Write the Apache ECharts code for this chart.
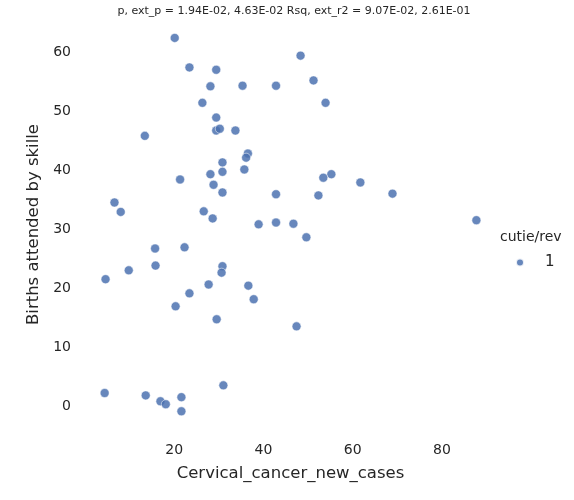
<!DOCTYPE html>
<html>
<head>
<meta charset="utf-8">
<script src="https://cdn.jsdelivr.net/npm/echarts@6/dist/echarts.min.js"></script>
<style>
  html, body { margin: 0; padding: 0; background: #fff; }
  #chart { width: 574px; height: 500px; }
</style>
</head>
<body>
<div id="chart"></div>
<script>
// values
var cancerCases = [
  20.1, 23.4, 29.4, 48.3, 51.2, 28.1, 35.3, 42.8, 26.3, 53.9,
  29.4, 29.4, 30.2, 33.7, 13.4, 36.5, 36.1, 30.8, 30.8, 35.7,
  28.1, 21.3, 55.2, 53.4, 61.7, 28.8, 30.8, 42.8, 52.3, 68.9,
  6.6, 8.0, 26.6, 28.6, 87.7, 42.8, 38.9, 46.7, 49.6, 15.7,
  22.3, 15.8, 30.8, 30.6, 9.8, 4.6, 27.7, 36.6, 23.4, 37.8,
  20.3, 29.5, 47.4, 4.4, 13.6, 21.6, 16.9, 18.1, 21.6, 31.0
];
var birthsSkilled = [
  62.4, 57.4, 57.0, 59.4, 55.2, 54.2, 54.3, 54.3, 51.4, 51.4,
  48.9, 46.7, 47.0, 46.7, 45.8, 42.8, 42.1, 41.3, 39.7, 40.1,
  39.3, 38.4, 39.3, 38.7, 37.9, 37.5, 36.2, 35.9, 35.7, 36.0,
  34.5, 32.9, 33.0, 31.8, 31.5, 31.1, 30.8, 30.9, 28.6, 26.7,
  26.9, 23.8, 23.7, 22.6, 23.0, 21.5, 20.6, 20.4, 19.1, 18.1,
  16.9, 14.7, 13.5, 2.2, 1.8, 1.5, 0.8, 0.3, -0.9, 3.5
];
var xTicks = [20, 40, 60, 80];
var yTicks = [0, 10, 20, 30, 40, 50, 60];
var seriesName = '1';
var legendTitle = 'cutie/rev';
var titleText = 'p, ext_p = 1.94E-02, 4.63E-02 Rsq, ext_r2 = 9.07E-02, 2.61E-01';

var points = cancerCases.map(function (x, i) { return [x, birthsSkilled[i]]; });

var textColor = '#262626';
var font = 'DejaVu Sans';

var chart = echarts.init(document.getElementById('chart'));

chart.setOption({
  animation: false,
  textStyle: { fontFamily: font, color: textColor },
  title: {
    text: titleText,
    left: 289,
    top: 1,
    textAlign: 'center',
    textStyle: { fontFamily: font, fontSize: 11, fontWeight: 'normal', color: textColor }
  },
  grid: { left: 86, right: 79, top: 19, bottom: 70 },
  xAxis: {
    type: 'value',
    min: 0.22,
    max: 91.87,
    name: 'Cervical_cancer_new_cases',
    nameLocation: 'middle',
    nameGap: 35,
    nameTextStyle: { fontSize: 16.5, color: textColor, fontFamily: font },
    axisLine: { show: false },
    axisTick: { show: false },
    splitLine: { show: false },
    axisLabel: {
      customValues: xTicks,
      fontSize: 14,
      color: textColor,
      margin: 13
    }
  },
  yAxis: {
    type: 'value',
    min: -4.07,
    max: 65.61,
    name: 'Births attended by skille',
    nameLocation: 'middle',
    nameGap: 37,
    nameTextStyle: { fontSize: 16.5, color: textColor, fontFamily: font },
    axisLine: { show: false },
    axisTick: { show: false },
    splitLine: { show: false },
    axisLabel: {
      customValues: yTicks,
      fontSize: 14,
      color: textColor,
      margin: 15
    }
  },
  legend: {
    data: [seriesName],
    left: 510,
    top: 250,
    icon: 'circle',
    itemWidth: 8,
    itemHeight: 8,
    itemGap: 0,
    textStyle: { fontSize: 15, color: textColor, fontFamily: font, padding: [0, 0, 0, 16] }
  },
  graphic: [{
    type: 'text',
    left: 500,
    top: 230,
    style: { text: legendTitle, font: '14px "DejaVu Sans"', fill: textColor }
  }],
  series: [{
    name: seriesName,
    type: 'scatter',
    data: points,
    symbolSize: 9,
    itemStyle: {
      color: '#4C72B0',
      opacity: 0.85,
      borderColor: '#ffffff',
      borderWidth: 0.6
    }
  }]
});
</script>
</body>
</html>
